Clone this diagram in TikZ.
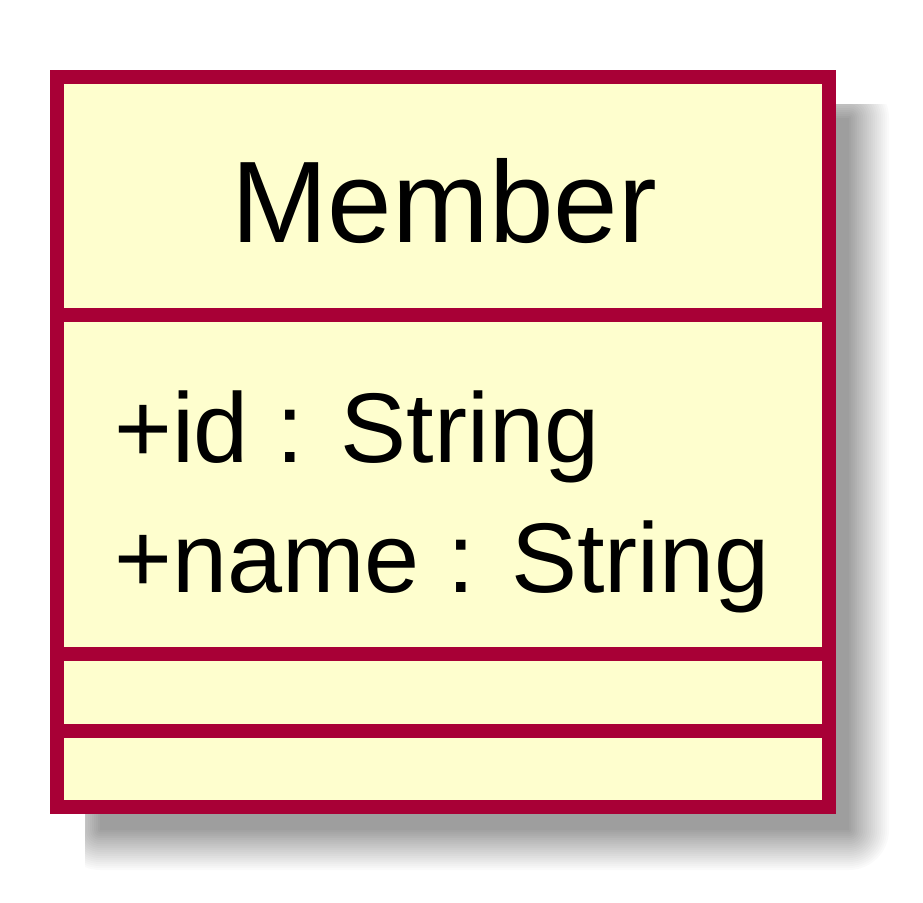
\documentclass[tikz,border=0pt]{standalone}
\usepackage{fontspec}
\setmainfont{Liberation Sans}
\definecolor{umlborder}{HTML}{A80036}
\definecolor{umlfill}{HTML}{FEFECE}
\definecolor{umlshadow}{HTML}{9E9E9E}

\begin{document}
\begin{tikzpicture}[x=1pt, y=-1pt, line join=miter,
    frame/.style={draw=umlborder, line width=14pt},
    title/.style={inner sep=0pt, anchor=base, font=\fontsize{116}{116}\selectfont},
    attr/.style={inner sep=0pt, anchor=base west, font=\fontsize{99}{99}\selectfont}]
    \useasboundingbox (0,0) rectangle (923,902);

    % Shadow: stacked translucent rectangles (linear fall-off)
    \begin{scope}
        \clip (85,104) rectangle (923,902);
        \foreach \r [count=\k] in {20,18,...,-20} {
            \pgfmathsetmacro\op{1/(22-\k)}
            \pgfmathsetmacro\rad{max(0.5,20+\r)}
            \fill[umlshadow, fill opacity=\op, rounded corners=\rad pt]
                ({80-(\r)},{98-(\r)}) rectangle ({869+\r},{850+\r});
        }
    \end{scope}

    % Class box
    \filldraw[frame, fill=umlfill] (57,76.5) rectangle (828.7,807);
    \coordinate (sepA) at (57,315.3);
    \coordinate (sepB) at (57,654.3);
    \coordinate (sepC) at (57,731.3);
    \foreach \s in {sepA,sepB,sepC} {
        \draw[frame] (\s) -- ++(771.7,0);
    }

    % Texts
    \node[title] (className) at (444,242) {Member};
    \node[attr] (attrId) at (114,462.5) {+id : String};
    \node[attr] (attrName) at (114,592) {+name : String};
\end{tikzpicture}
\end{document}
